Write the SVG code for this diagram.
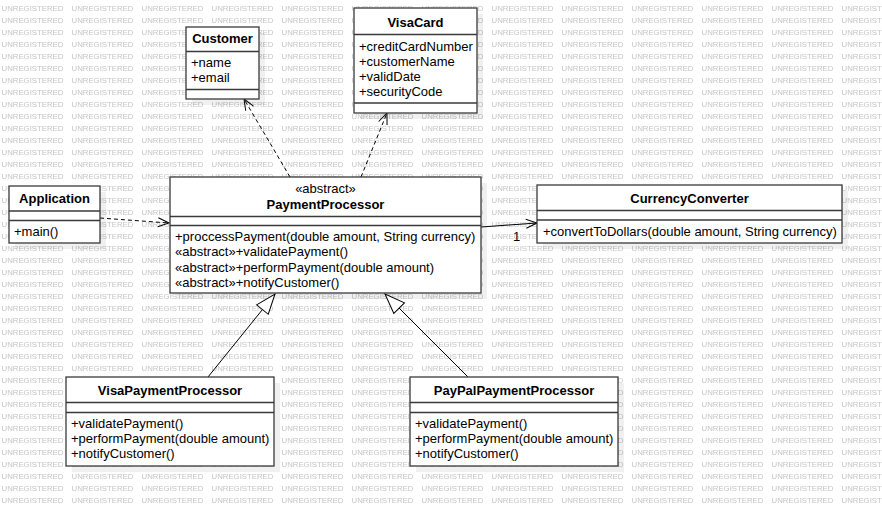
<svg xmlns="http://www.w3.org/2000/svg" width="882" height="506" viewBox="0 0 882 506">
<style>
text{font-family:"Liberation Sans",Arial,sans-serif;font-size:13px;fill:#000}
.t{font-weight:bold;text-anchor:middle}
.c{text-anchor:middle}
.box{fill:#fff;stroke:#3a3a3a;stroke-width:1.3}
.sep{stroke:#3a3a3a;stroke-width:1.3}
.sh{fill:#000;fill-opacity:0.06}
.wm{font-size:7.8px;fill:#c4c4c4}
.dep{fill:none;stroke:#000;stroke-width:1;stroke-dasharray:4 3}
.sol{fill:none;stroke:#000;stroke-width:1}
</style>
<defs>
<pattern id="wmp" patternUnits="userSpaceOnUse" x="0" y="0" width="70" height="12">
<text class="wm" x="1.5" y="11.1">UNREGISTERED</text>
</pattern>
<marker id="open" markerUnits="userSpaceOnUse" markerWidth="14" markerHeight="12" refX="11" refY="5" orient="auto" overflow="visible">
<path d="M0,0.5 L11,5 L0,9.5" fill="none" stroke="#000" stroke-width="1"/>
</marker>
<marker id="tri" markerUnits="userSpaceOnUse" markerWidth="22" markerHeight="16" refX="20" refY="7.5" orient="auto" overflow="visible">
<path d="M0,0 L20,7.5 L0,15 Z" fill="#fff" stroke="#000" stroke-width="1"/>
</marker>
</defs>
<rect width="882" height="506" fill="#fff"/>
<rect width="882" height="506" fill="url(#wmp)"/>
<g id="shadows">
<rect class="sh" x="192" y="33" width="73" height="72"/>
<rect class="sh" x="360" y="14" width="123" height="105"/>
<rect class="sh" x="15" y="192" width="91" height="57"/>
<rect class="sh" x="176" y="183" width="311" height="116"/>
<rect class="sh" x="543" y="191" width="305" height="58"/>
<rect class="sh" x="72" y="383" width="208" height="89"/>
<rect class="sh" x="416" y="383" width="208" height="89"/>
</g>
<g id="connectors">
<path class="dep" d="M100,218 L169,223" marker-end="url(#open)"/>
<path class="dep" d="M290,177 L244,99" marker-end="url(#open)"/>
<path class="dep" d="M361,177 L387,113" marker-end="url(#open)"/>
<path class="sol" d="M481,227 L537,223" marker-end="url(#open)"/>
<text x="513" y="241">1</text>
<path class="sol" d="M208,377 L275,294" marker-end="url(#tri)"/>
<path class="sol" d="M468,377 L385,294" marker-end="url(#tri)"/>
</g>
<g id="Customer">
<rect class="box" x="186" y="27" width="73" height="72"/>
<line class="sep" x1="186" y1="51.5" x2="259" y2="51.5"/>
<line class="sep" x1="186" y1="89.5" x2="259" y2="89.5"/>
<text class="t" x="222.5" y="43">Customer</text>
<text x="191" y="66.5">+name</text>
<text x="191" y="81.5">+email</text>
</g>
<g id="VisaCard">
<rect class="box" x="354" y="8" width="123" height="105"/>
<line class="sep" x1="354" y1="34.5" x2="477" y2="34.5"/>
<line class="sep" x1="354" y1="103" x2="477" y2="103"/>
<text class="t" x="415.5" y="27">VisaCard</text>
<text x="359" y="50.5">+creditCardNumber</text>
<text x="359" y="65.5">+customerName</text>
<text x="359" y="80.5">+validDate</text>
<text x="359" y="95.5">+securityCode</text>
</g>
<g id="Application">
<rect class="box" x="9" y="186" width="91" height="57"/>
<line class="sep" x1="9" y1="211" x2="100" y2="211"/>
<line class="sep" x1="9" y1="220.5" x2="100" y2="220.5"/>
<text class="t" x="54.5" y="202.5">Application</text>
<text x="14" y="236">+main()</text>
</g>
<g id="PaymentProcessor">
<rect class="box" x="170" y="177" width="311" height="116"/>
<line class="sep" x1="170" y1="216.5" x2="481" y2="216.5"/>
<line class="sep" x1="170" y1="225.5" x2="481" y2="225.5"/>
<text class="c" x="325.5" y="193">«abstract»</text>
<text class="t" x="325.5" y="208.5">PaymentProcessor</text>
<text x="175" y="240.5">+proccessPayment(double amount, String currency)</text>
<text x="175" y="256">«abstract»+validatePayment()</text>
<text x="175" y="271.5">«abstract»+performPayment(double amount)</text>
<text x="175" y="287">«abstract»+notifyCustomer()</text>
</g>
<g id="CurrencyConverter">
<rect class="box" x="537" y="185" width="305" height="58"/>
<line class="sep" x1="537" y1="210.5" x2="842" y2="210.5"/>
<line class="sep" x1="537" y1="220" x2="842" y2="220"/>
<text class="t" x="689.5" y="202.5">CurrencyConverter</text>
<text x="543" y="235.5">+convertToDollars(double amount, String currency)</text>
</g>
<g id="VisaPaymentProcessor">
<rect class="box" x="66" y="377" width="208" height="89"/>
<line class="sep" x1="66" y1="402.5" x2="274" y2="402.5"/>
<line class="sep" x1="66" y1="412.5" x2="274" y2="412.5"/>
<text class="t" x="170" y="394.5">VisaPaymentProcessor</text>
<text x="71" y="428">+validatePayment()</text>
<text x="71" y="443">+performPayment(double amount)</text>
<text x="71" y="458">+notifyCustomer()</text>
</g>
<g id="PayPalPaymentProcessor">
<rect class="box" x="410" y="377" width="208" height="89"/>
<line class="sep" x1="410" y1="402.5" x2="618" y2="402.5"/>
<line class="sep" x1="410" y1="412.5" x2="618" y2="412.5"/>
<text class="t" x="514" y="394.5">PayPalPaymentProcessor</text>
<text x="415" y="428">+validatePayment()</text>
<text x="415" y="443">+performPayment(double amount)</text>
<text x="415" y="458">+notifyCustomer()</text>
</g>
</svg>
